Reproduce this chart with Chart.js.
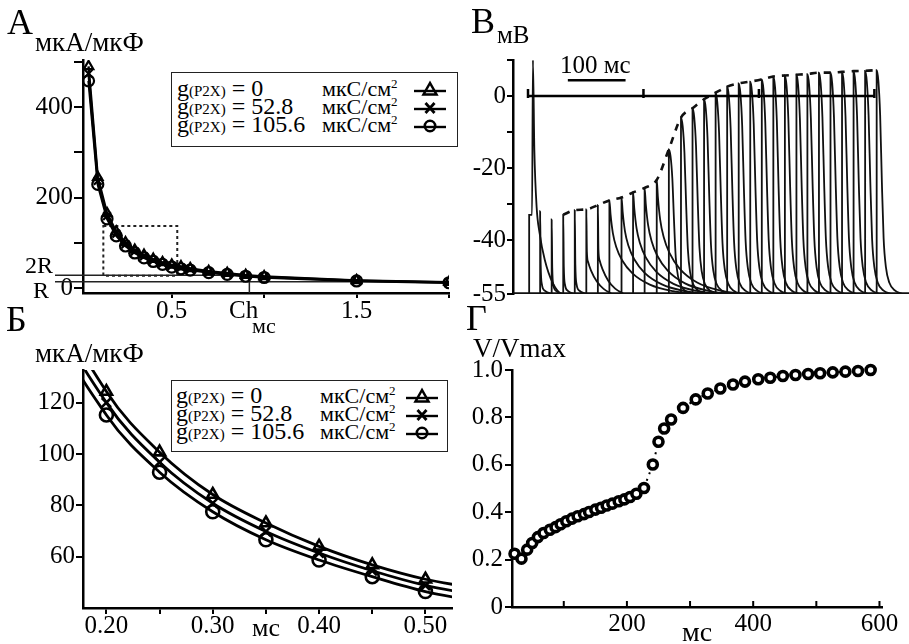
<!DOCTYPE html>
<html>
<head>
<meta charset="utf-8">
<script src="https://cdn.jsdelivr.net/npm/chart.js@4.4.0/dist/chart.umd.min.js"></script>
<style>
  html, body { margin: 0; padding: 0; background: #fff; }
  #page { position: relative; width: 909px; height: 644px; overflow: hidden;
          font-family: 'Liberation Serif', 'DejaVu Serif', 'Times New Roman', serif; color: #000; }
  #page canvas { position: absolute; left: 0; top: 0; }
  .lbl { position: absolute; white-space: nowrap; line-height: 1; }
  .legend { position: absolute; border: 1.5px solid #222; background: #fff; box-sizing: border-box; }
  .row { position: absolute; white-space: nowrap; line-height: 1; font-size: 24px; }
  .row .sub { font-size: 15px; }
  .unit { position: absolute; white-space: nowrap; line-height: 1; font-size: 22px; }
  .unit .sup { font-size: 13px; position: relative; top: -8px; }
  .mark { position: absolute; }
</style>
</head>
<body>
<div id="page">
  <canvas id="chartA" width="909" height="644"></canvas>
  <canvas id="chartB" width="909" height="644"></canvas>
  <canvas id="chartBb" width="909" height="644"></canvas>
  <canvas id="chartG" width="909" height="644"></canvas>

  <div class="lbl" style="left:7px;top:4px;font-size:36px">А</div>
  <div class="lbl" style="left:35px;top:29px;font-size:27px">мкА/мкФ</div>
  <div class="lbl" style="left:25px;top:253px;font-size:24px">2R</div>
  <div class="lbl" style="left:33px;top:278px;font-size:24px">R</div>
  <div class="lbl" style="left:229px;top:297px;font-size:25px">Ch</div>
  <div class="lbl" style="left:252px;top:315px;font-size:22px">мс</div>

  <div class="lbl" style="left:471px;top:3px;font-size:36px">В</div>
  <div class="lbl" style="left:497px;top:22px;font-size:25px">мВ</div>
  <div class="lbl" style="left:560px;top:52px;font-size:25px">100 мс</div>

  <div class="lbl" style="left:6px;top:301px;font-size:36px">Б</div>
  <div class="lbl" style="left:35px;top:340px;font-size:27px">мкА/мкФ</div>
  <div class="lbl" style="left:252px;top:615px;font-size:26px">мс</div>

  <div class="lbl" style="left:466px;top:300px;font-size:36px">Г</div>
  <div class="lbl" style="left:473px;top:335px;font-size:27px">V/Vmax</div>
  <div class="lbl" style="left:682px;top:618px;font-size:28px">мс</div>

  <div class="legend" id="legendA" style="left:171px;top:72px;width:287px;height:75px"></div>
  <div class="legend" id="legendBb" style="left:171px;top:380px;width:277px;height:72px"></div>
</div>

<script>
// ---------- А and Б: strength-duration curves ----------
const durations   = [0.05, 0.1, 0.15, 0.2, 0.25, 0.3, 0.35, 0.4, 0.45, 0.5, 0.55, 0.6, 0.7, 0.8, 0.9, 1.0, 1.5, 2.0];
const currentG0   = [490, 245, 165, 124.3, 100.7, 84.2, 73.1, 64.0, 56.8, 51.2, 47.5, 43.5, 37.0, 33.0, 28.5, 25.5, 17.0, 13.0];
const currentG53  = [474, 237, 159, 120.0, 96.8, 80.8, 69.8, 61.4, 54.5, 48.8, 45.0, 41.5, 35.5, 31.5, 27.3, 24.3, 16.3, 12.3];
const currentG106 = [458, 229, 153, 115.2, 92.9, 77.5, 66.6, 58.7, 52.2, 46.4, 42.6, 39.5, 34.0, 30.0, 26.0, 23.3, 15.6, 11.7];
const gLabels  = ['0', '52.8', '105.6'];
const gMarkers = ['triangle', 'crossRot', 'circle'];

const rheobase  = 14;
const chronaxie = 0.92;
const zoomBoxX  = [0.13, 0.53];
const zoomBoxY  = [27, 137];

const aTicksX  = [0.5, 1.0, 1.5, 2.0];
const aLabelsX = ['0.5', '', '1.5', ''];
const aTicksY  = [0, 100, 200, 300, 400, 500];
const aLabelsY = ['0', '', '200', '', '400', ''];

const bbTicksX  = [0.20, 0.25, 0.30, 0.35, 0.40, 0.45, 0.50];
const bbLabelsX = ['0.20', '', '0.30', '', '0.40', '', '0.50'];
const bbTicksY  = [60, 80, 100, 120];
const bbLabelsY = ['60', '80', '100', '120'];

// ---------- В: membrane potential traces ----------
const firstApMs = [-26, 2, 2, 7, 8.5, 11, 15, 20, 29, 43, 60, 660];
const firstApMv = [-55, -55, -33, -33, 10, -15, -31, -38, -45.5, -52, -55, -55];
const stimMs   = [21, 41, 61, 81, 101, 121, 141, 162, 182, 202, 223, 244, 265, 285, 305,
                  325, 345, 365, 385, 405, 425, 445, 465, 484, 504, 524, 544, 564, 584, 604];
const stimPeak = [-32, -34.3, -33, -31.7, -31.5, -30.3, -29, -28.2, -26.8, -25.5, -23.3, -14.8, -6, -3.4, -0.9,
                  0.9, 2.6, 3.5, 4.0, 4.6, 5.4, 5.7, 5.9, 6.1, 6.5, 6.5, 6.7, 6.9, 7.0, 7.2];
const stimKind = ['fast', 'fast', 'fast', 'fast', 'mid', 'mid', 'slow', 'slow', 'slow', 'slow', 'slow', 'spike', 'spike', 'spike', 'spike',
                  'spike', 'spike', 'spike', 'spike', 'spike', 'spike', 'spike', 'spike', 'spike', 'spike', 'spike', 'spike', 'spike', 'spike', 'spike'];
const fastDecayMs   = [0, 1, 3, 8, 20];
const fastDecayFr   = [1, 0.35, 0.12, 0.04, 0];
const midDecayMs    = [0, 1, 3, 8, 18, 30, 45];
const midDecayFr    = [1, 0.5, 0.38, 0.28, 0.15, 0.06, 0];
const slowDecayMs   = [0, 2, 6, 12, 22, 40, 70, 110, 150];
const slowDecayFr   = [1, 0.85, 0.65, 0.5, 0.36, 0.22, 0.1, 0.03, 0];
const spikeDecayMs  = [0, 3, 6, 9, 12, 16, 22, 32, 45];
const spikeDecayFr  = [1, 0.95, 0.8, 0.5, 0.25, 0.12, 0.05, 0.015, 0];
const restMv = -55;
const envelopeFrom = 2;

const bTicksY  = [10, 0, -10, -20, -30, -40, -55];
const bLabelsY = ['', '0', '', '-20', '', '-40', '-55'];
const zeroLineMs  = [0, 600];
const zeroTicksMs = [0, 200, 400, 600];
const scaleBarMs  = [69, 169];
const scaleBarMv  = 4.4;

// ---------- Г: normalised amplitude ----------
const gTimes  = [22, 33, 42, 50, 59, 68, 78, 87, 95, 104, 113, 122, 132, 140, 150, 159, 168, 177, 187, 196, 205, 215, 227,
                 241, 250, 259, 270, 289, 309, 328, 348, 368, 387, 408, 427, 447, 467, 487, 506, 526, 546, 566, 586];
const gValues = [0.225, 0.204, 0.242, 0.27, 0.295, 0.312, 0.326, 0.337, 0.349, 0.362, 0.373, 0.383, 0.392, 0.401, 0.411,
                 0.419, 0.428, 0.436, 0.446, 0.454, 0.464, 0.478, 0.502, 0.601, 0.697, 0.753, 0.791, 0.84, 0.876, 0.901,
                 0.922, 0.939, 0.951, 0.961, 0.967, 0.975, 0.979, 0.983, 0.986, 0.99, 0.993, 0.996, 1.0];
const gTicksX  = [100, 200, 300, 400, 500, 600];
const gLabelsX = ['', '200', '', '400', '', '600'];
const gTicksY  = [0, 0.2, 0.4, 0.6, 0.8, 1.0];
const gLabelsY = ['0', '0.2', '0.4', '0.6', '0.8', '1.0'];

// ---------- helpers ----------
const PAGE_W = 909, PAGE_H = 644;
const AXIS_W = 60, AXIS_H = 40;
Chart.defaults.font.family = "'Liberation Serif', 'DejaVu Serif', 'Times New Roman', serif";
Chart.defaults.color = '#000';

function frame(l, t, r, b) {
  return { autoPadding: false,
           padding: { left: l - AXIS_W, top: t, right: PAGE_W - r, bottom: PAGE_H - b - AXIS_H } };
}

function makeAxis(o) {
  return {
    type: 'linear', min: o.min, max: o.max, display: o.display !== false,
    grid: { display: true, drawOnChartArea: false, drawTicks: o.tickLen > 0, tickLength: o.tickLen || 0,
            color: '#000', lineWidth: 2 },
    border: { display: true, color: '#000', width: 2.5 },
    ticks: { autoSkip: false, maxRotation: 0, padding: o.pad, color: '#000', font: { size: 25 },
             callback: (v) => { const i = o.ticks.indexOf(v); return i < 0 ? '' : o.labels[i]; } },
    afterBuildTicks: (s) => { s.ticks = o.ticks.map(v => ({ value: v })); },
    afterFit: (s) => { if (s.isHorizontal()) s.height = AXIS_H; else s.width = AXIS_W; }
  };
}

function xy(xs, ys) { return xs.map((x, i) => ({ x: x, y: ys[i] })); }

const curveSeries = [currentG0, currentG53, currentG106];
const baseOpts = { responsive: false, animation: false, events: [],
                   plugins: { legend: { display: false }, tooltip: { enabled: false } } };

// ---------- chart А ----------
const aMarks = {
  id: 'aMarks',
  beforeDatasetsDraw(chart) {
    const { ctx, scales: { x, y }, chartArea } = chart;
    ctx.save();
    ctx.strokeStyle = '#222';
    ctx.lineWidth = 2;
    ctx.setLineDash([3, 3]);
    ctx.strokeRect(x.getPixelForValue(zoomBoxX[0]), y.getPixelForValue(zoomBoxY[1]),
                   x.getPixelForValue(zoomBoxX[1]) - x.getPixelForValue(zoomBoxX[0]),
                   y.getPixelForValue(zoomBoxY[0]) - y.getPixelForValue(zoomBoxY[1]));
    ctx.setLineDash([]);
    ctx.lineWidth = 1.5;
    const yR = y.getPixelForValue(rheobase), y2R = y.getPixelForValue(2 * rheobase);
    const xCh = x.getPixelForValue(chronaxie);
    ctx.beginPath();
    ctx.moveTo(55, yR); ctx.lineTo(x.getPixelForValue(2.0), yR);
    ctx.moveTo(55, y2R); ctx.lineTo(xCh, y2R);
    ctx.moveTo(xCh, y2R); ctx.lineTo(xCh, chartArea.bottom);
    ctx.stroke();
    ctx.restore();
  }
};

new Chart(document.getElementById('chartA'), {
  type: 'line',
  data: { datasets: curveSeries.map((vals, i) => ({
    data: xy(durations, vals), borderColor: '#000', borderWidth: 2.4, tension: 0,
    pointStyle: gMarkers[i], pointRadius: 5.5, pointBorderWidth: 2.2,
    pointBorderColor: '#000', pointBackgroundColor: 'rgba(255,255,255,0)'
  })) },
  options: Object.assign({}, baseOpts, {
    layout: frame(83, 60, 449, 293),
    scales: {
      x: makeAxis({ min: 0.02, max: 2.0, ticks: aTicksX, labels: aLabelsX, tickLen: 5, pad: -2 }),
      y: makeAxis({ min: -11, max: 504, ticks: aTicksY, labels: aLabelsY, tickLen: 9, pad: 1 })
    }
  }),
  plugins: [aMarks]
});

// ---------- chart Б ----------
new Chart(document.getElementById('chartBb'), {
  type: 'line',
  data: { datasets: curveSeries.map((vals, i) => ({
    data: xy(durations, vals), borderColor: '#000', borderWidth: 2.8, cubicInterpolationMode: 'monotone',
    pointStyle: gMarkers[i], pointRadius: 6.5, pointBorderWidth: 2.6,
    pointBorderColor: '#000', pointBackgroundColor: 'rgba(255,255,255,0)'
  })) },
  options: Object.assign({}, baseOpts, {
    layout: frame(83, 370, 452, 608),
    scales: {
      x: makeAxis({ min: 0.178, max: 0.525, ticks: bbTicksX, labels: bbLabelsX, tickLen: 6, pad: -2.5 }),
      y: makeAxis({ min: 40, max: 132.7, ticks: bbTicksY, labels: bbLabelsY, tickLen: 7, pad: 1 })
    }
  })
});

// ---------- chart В ----------
const decayMs = { fast: fastDecayMs, mid: midDecayMs, slow: slowDecayMs, spike: spikeDecayMs };
const decayFr = { fast: fastDecayFr, mid: midDecayFr, slow: slowDecayFr, spike: spikeDecayFr };
const traceStyle = { borderColor: '#111', borderWidth: 1.8, pointRadius: 0, cubicInterpolationMode: 'monotone' };

const bDatasets = [
  { data: [{ x: -26, y: restMv }, { x: 660, y: restMv }], borderWidth: 3.5, borderColor: '#111', pointRadius: 0 },
  Object.assign({ data: xy(firstApMs, firstApMv) }, traceStyle)
];
stimMs.forEach((t, k) => {
  const ms = decayMs[stimKind[k]], fr = decayFr[stimKind[k]];
  const pts = [{ x: t, y: restMv }].concat(ms.map((d, i) => ({ x: t + d, y: restMv + (stimPeak[k] - restMv) * fr[i] })));
  bDatasets.push(Object.assign({ data: pts }, traceStyle));
});
bDatasets.push({
  data: xy(stimMs.slice(envelopeFrom), stimPeak.slice(envelopeFrom)),
  borderColor: '#111', borderWidth: 2.6, borderDash: [7, 7], pointRadius: 0, cubicInterpolationMode: 'monotone'
});

const bMarks = {
  id: 'bMarks',
  afterDatasetsDraw(chart) {
    const { ctx, scales: { x, y } } = chart;
    const y0 = y.getPixelForValue(0);
    ctx.save();
    ctx.strokeStyle = '#000';
    ctx.lineWidth = 2.5;
    ctx.beginPath();
    ctx.moveTo(x.getPixelForValue(zeroLineMs[0]), y0);
    ctx.lineTo(x.getPixelForValue(zeroLineMs[1]), y0);
    zeroTicksMs.forEach(t => {
      const px = x.getPixelForValue(t);
      ctx.moveTo(px, y0 - 7); ctx.lineTo(px, y0 + 2);
    });
    const yb = y.getPixelForValue(scaleBarMv);
    ctx.moveTo(x.getPixelForValue(scaleBarMs[0]), yb);
    ctx.lineTo(x.getPixelForValue(scaleBarMs[1]), yb);
    ctx.stroke();
    ctx.restore();
  }
};

new Chart(document.getElementById('chartB'), {
  type: 'line',
  data: { datasets: bDatasets },
  options: Object.assign({}, baseOpts, {
    layout: { autoPadding: false, padding: { left: 513 - AXIS_W, top: 60, right: 0, bottom: PAGE_H - 294 } },
    scales: {
      x: { type: 'linear', min: -26, max: 660, display: false },
      y: makeAxis({ min: -55, max: 10, ticks: bTicksY, labels: bLabelsY, tickLen: 6, pad: 1 })
    }
  }),
  plugins: [bMarks]
});

// ---------- chart Г ----------
const gMarks = {
  id: 'gMarks',
  afterDraw(chart) {
    const { ctx, scales: { x }, chartArea } = chart;
    ctx.save();
    ctx.strokeStyle = '#000';
    ctx.lineWidth = 2;
    ctx.beginPath();
    gTicksX.forEach(t => {
      const px = x.getPixelForValue(t);
      ctx.moveTo(px, chartArea.bottom); ctx.lineTo(px, chartArea.bottom - 6);
    });
    ctx.stroke();
    ctx.restore();
  }
};

new Chart(document.getElementById('chartG'), {
  type: 'line',
  data: { datasets: [{
    data: xy(gTimes, gValues), borderColor: '#000', borderWidth: 2, borderDash: [2, 5], tension: 0, clip: false,
    pointRadius: 4.5, pointBorderWidth: 3.6, pointBorderColor: '#000', pointBackgroundColor: '#fff'
  }] },
  options: Object.assign({}, baseOpts, {
    layout: frame(512, 370, 882, 607),
    scales: {
      x: makeAxis({ min: 18, max: 604, ticks: gTicksX, labels: gLabelsX, tickLen: 0, pad: 2 }),
      y: makeAxis({ min: 0, max: 1.0, ticks: gTicksY, labels: gLabelsY, tickLen: 7, pad: 2 })
    }
  }),
  plugins: [gMarks]
});

// ---------- legends (А and Б) ----------
const markerSvg = {
  triangle: '<polygon points="16,3 9.5,14.5 22.5,14.5" fill="none" stroke="#000" stroke-width="2.5"/>',
  crossRot: '<line x1="11.5" y1="5" x2="20.5" y2="15" stroke="#000" stroke-width="2.8"/><line x1="20.5" y1="5" x2="11.5" y2="15" stroke="#000" stroke-width="2.8"/>',
  circle:   '<circle cx="16" cy="10" r="5.2" fill="none" stroke="#000" stroke-width="2.6"/>'
};

function buildLegend(rowCenters, textLeft, unitLeft, markLeft) {
  const page = document.getElementById('page');
  gLabels.forEach((g, i) => {
    const c = rowCenters[i];
    const row = document.createElement('div');
    row.className = 'row';
    row.style.left = textLeft + 'px';
    row.style.top = (c - 13) + 'px';
    row.innerHTML = 'g<span class="sub">(P2X)</span> = ' + g;
    page.appendChild(row);
    const unit = document.createElement('div');
    unit.className = 'unit';
    unit.style.left = unitLeft + 'px';
    unit.style.top = (c - 11) + 'px';
    unit.innerHTML = 'мкС/см<span class="sup">2</span>';
    page.appendChild(unit);
    const mk = document.createElement('div');
    mk.className = 'mark';
    mk.style.left = markLeft + 'px';
    mk.style.top = (c - 9) + 'px';
    mk.innerHTML = '<svg width="32" height="20"><line x1="0" y1="11" x2="32" y2="11" stroke="#000" stroke-width="2.4"/>' +
                   markerSvg[gMarkers[i]] + '</svg>';
    page.appendChild(mk);
  });
}
buildLegend([89, 107, 125], 177, 322, 414);
buildLegend([396, 414, 432], 176, 320, 406);
</script>
</body>
</html>
